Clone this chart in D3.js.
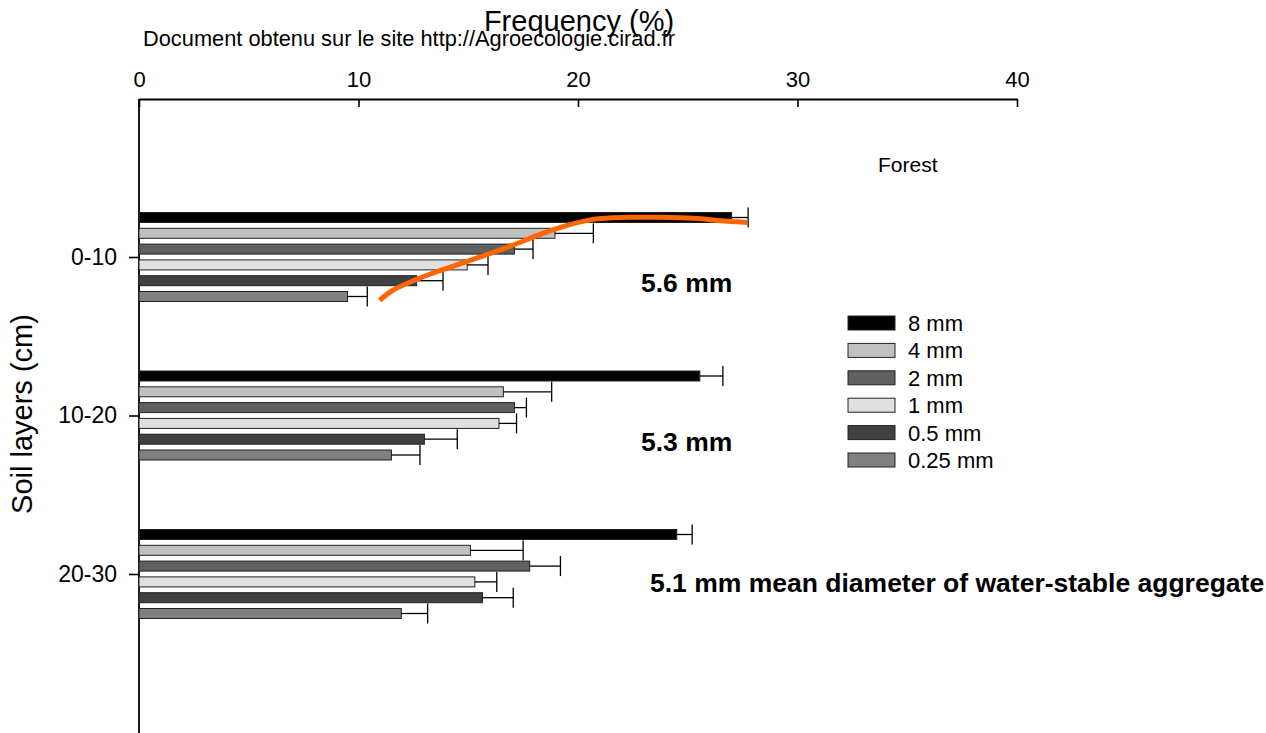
<!DOCTYPE html>
<html>
<head>
<meta charset="utf-8">
<script src="https://cdn.jsdelivr.net/npm/d3@7"></script>
<style>
  body { margin: 0; background: #fff; }
  svg text { font-family: "Liberation Sans", Arial, sans-serif; fill: #000; }
</style>
</head>
<body>
<svg class="chart" width="1266" height="733"></svg>
<script>
// data
var layers = ["0-10", "10-20", "20-30"];
var sizes = ["8 mm", "4 mm", "2 mm", "1 mm", "0.5 mm", "0.25 mm"];
var colors = ["#000000", "#c0c0c0", "#606060", "#e0e0e0", "#404040", "#808080"];
var freq010 = [27.0, 18.95, 17.1, 14.95, 12.65, 9.5];
var err010 = [0.75, 1.75, 0.85, 0.95, 1.2, 0.9];
var freq1020 = [25.55, 16.6, 17.1, 16.4, 13.0, 11.5];
var err1020 = [1.05, 2.2, 0.55, 0.8, 1.5, 1.3];
var freq2030 = [24.5, 15.1, 17.8, 15.3, 15.65, 11.95];
var err2030 = [0.7, 2.4, 1.4, 1.0, 1.4, 1.2];
var xTicks = [0, 10, 20, 30, 40];
var mwd = ["5.6 mm", "5.3 mm", "5.1 mm mean diameter of water-stable aggregate"];
// hand-drawn orange curve: [frequency, bar slot within 0-10 group]
var curveFreq = [10.96, 11.55, 13.1, 15.08, 16.76, 18.4, 19.5, 20.68, 22.23, 23.74, 25.24, 26.79, 27.7];
var curveSlot = [5.25, 4.62, 3.67, 2.72, 1.9, 1.01, 0.5, 0.12, -0.01, -0.01, 0.05, 0.24, 0.31];

var svg = d3.select(".chart");
var margin = { top: 99, left: 139 };

var x = d3.scaleLinear().domain([0, 40]).range([139, 1017]);
var y = d3.scalePoint().domain(layers).range([257, 574]);
var slot = d3.scaleLinear().domain([0, 5]).range([-39.5, 39.5]);
var barH = 10;

var rows = [];
[freq010, freq1020, freq2030].forEach(function (vals, li) {
    var errs = [err010, err1020, err2030][li];
    vals.forEach(function (v, i) {
        rows.push({ layer: layers[li], i: i, v: v, e: errs[i] });
    });
});

// axes
var xAxis = d3.axisTop(x).tickValues(xTicks).tickSizeInner(-8).tickSizeOuter(0).tickPadding(12);
var gx = svg.append("g").attr("transform", "translate(0," + margin.top + ")").call(xAxis);
gx.select(".domain").attr("stroke-width", 1.8);
gx.selectAll(".tick line").attr("stroke-width", 1.6);
gx.selectAll(".tick text").attr("font-size", 22);

var gy = svg.append("g").attr("transform", "translate(" + margin.left + ",0)")
    .call(d3.axisLeft(y).tickSize(10).tickPadding(12));
gy.select(".domain").remove();
gy.selectAll(".tick line").attr("stroke-width", 1.6);
gy.selectAll(".tick text").attr("font-size", 23);
svg.append("line")
    .attr("x1", margin.left).attr("x2", margin.left)
    .attr("y1", margin.top).attr("y2", 733)
    .attr("stroke", "#000").attr("stroke-width", 1.8);

// bars
var bars = svg.append("g");
bars.selectAll("rect").data(rows).enter().append("rect")
    .attr("x", x(0))
    .attr("y", function (d) { return y(d.layer) + slot(d.i) - barH / 2; })
    .attr("width", function (d) { return x(d.v) - x(0); })
    .attr("height", barH)
    .attr("fill", function (d) { return colors[d.i]; })
    .attr("stroke", "#222").attr("stroke-width", 1);

// error bars
var errs = svg.append("g").attr("stroke", "#000").attr("stroke-width", 1.3);
errs.selectAll(".eb").data(rows).enter().append("line")
    .attr("x1", function (d) { return x(d.v); })
    .attr("x2", function (d) { return x(d.v + d.e); })
    .attr("y1", function (d) { return y(d.layer) + slot(d.i); })
    .attr("y2", function (d) { return y(d.layer) + slot(d.i); });
errs.selectAll(".cap").data(rows).enter().append("line")
    .attr("x1", function (d) { return x(d.v + d.e); })
    .attr("x2", function (d) { return x(d.v + d.e); })
    .attr("y1", function (d) { return y(d.layer) + slot(d.i) - 10; })
    .attr("y2", function (d) { return y(d.layer) + slot(d.i) + 10; });

// orange annotation curve
var line = d3.line()
    .x(function (d) { return x(d[0]); })
    .y(function (d) { return y("0-10") + slot(d[1]); })
    .curve(d3.curveCatmullRom);
svg.append("path")
    .datum(d3.zip(curveFreq, curveSlot))
    .attr("d", line)
    .attr("fill", "none")
    .attr("stroke", "#ff6600")
    .attr("stroke-width", 5)
    .attr("stroke-linecap", "butt");

// mean weight diameters
svg.selectAll(".mwd").data(mwd).enter().append("text")
    .attr("x", function (d, i) { return i < 2 ? 641 : 650; })
    .attr("y", function (d, i) { return y(layers[i]) + (i < 2 ? 35 : 18); })
    .attr("font-size", function (d, i) { return i < 2 ? 26.5 : 26.5; })
    .attr("font-weight", "bold")
    .text(function (d) { return d; });

// legend
var legend = svg.append("g");
var ly = d3.scaleLinear().domain([0, 5]).range([323, 460]);
legend.selectAll("rect").data(sizes).enter().append("rect")
    .attr("x", 848).attr("y", function (d, i) { return ly(i) - 7; })
    .attr("width", 47).attr("height", 14)
    .attr("fill", function (d, i) { return colors[i]; })
    .attr("stroke", "#222").attr("stroke-width", 1);
legend.selectAll("text").data(sizes).enter().append("text")
    .attr("x", 908).attr("y", function (d, i) { return ly(i) + 8; })
    .attr("font-size", 22)
    .text(function (d) { return d; });

// titles
svg.append("text").attr("x", 579).attr("y", 31).attr("text-anchor", "middle")
    .attr("font-size", 29).text("Frequency (%)");
svg.append("text").attr("x", 143).attr("y", 46)
    .attr("font-size", 21.8).text("Document obtenu sur le site http://Agroecologie.cirad.fr");
svg.append("text").attr("x", 878).attr("y", 172)
    .attr("font-size", 21).text("Forest");
svg.append("text")
    .attr("transform", "translate(32,414) rotate(-90)")
    .attr("text-anchor", "middle").attr("font-size", 29)
    .text("Soil layers (cm)");
</script>
</body>
</html>
